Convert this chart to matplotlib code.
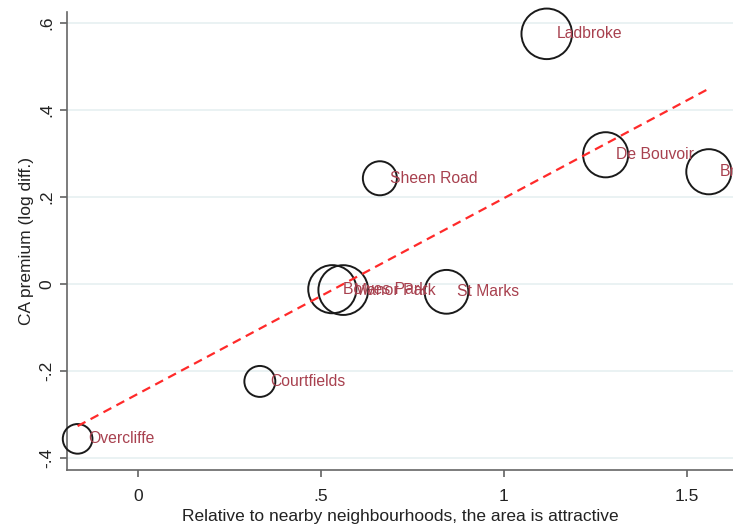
import numpy as np
import matplotlib.pyplot as plt

plt.rcParams['font.family'] = ['Liberation Sans', 'DejaVu Sans']

# conservation areas: attractiveness score vs. price premium
areas = ["Overcliffe", "Courtfields", "Bowes Park", "Manor Park", "Sheen Road",
         "St Marks", "Ladbroke", "De Bouvoir", "Brondesbury"]
attractive = [-0.165, 0.333, 0.531, 0.561, 0.661, 0.843, 1.117, 1.278, 1.560]
premium = [-0.356, -0.224, -0.012, -0.014, 0.243, -0.018, 0.575, 0.297, 0.258]
weight = [22, 24, 58, 62, 29, 48, 64, 51, 51]

yticks = [-0.4, -0.2, 0, 0.2, 0.4, 0.6]
ytick_labels = ["-.4", "-.2", "0", ".2", ".4", ".6"]
xticks = [0, 0.5, 1, 1.5]
xtick_labels = ["0", ".5", "1", "1.5"]

x = np.array(attractive)
y = np.array(premium)
w = np.array(weight)

fig = plt.figure(figsize=(7.33, 5.30), dpi=100)
ax = fig.add_axes([0.0914, 0.1132, 0.9086, 0.864])
ax.set_xlim(-0.194, 1.626)
ax.set_ylim(-0.4276, 0.625)

ax.set_yticks(yticks)
ax.set_yticklabels(ytick_labels, rotation=90, va='center')
ax.set_xticks(xticks)
ax.set_xticklabels(xtick_labels)
ax.grid(axis='y', color='#e6f0f1', linewidth=1.2)
ax.set_axisbelow(True)

for s in ['top', 'right']:
    ax.spines[s].set_visible(False)
for s in ['left', 'bottom']:
    ax.spines[s].set_color('#666666')
    ax.spines[s].set_linewidth(1.2)
ax.tick_params(colors='#555555', length=5, width=1.1, labelsize=12.5,
               labelcolor='#222222')
ax.tick_params(axis='x', pad=9)
ax.tick_params(axis='y', pad=4)

# hollow circles sized by weight
ax.scatter(x, y, s=w * 20.7, facecolors='none', edgecolors='#1a1a1a',
           linewidths=1.4, clip_on=False, zorder=3)

# linear fit
b, a = np.polyfit(x, y, 1)
xf = np.array([x.min(), x.max()])
ax.plot(xf, a + b * xf, color='#ff2a2a', linestyle=(0, (4, 2.6)),
        linewidth=1.6, zorder=4)

for name, xi, yi in zip(areas, x, y):
    ax.annotate(name, (xi, yi), xytext=(7.5, 0), textcoords='offset points',
                va='center', ha='left', fontsize=11.3, color='#a8414f',
                annotation_clip=False, zorder=5)

ax.set_xlabel("Relative to nearby neighbourhoods, the area is attractive",
              fontsize=12.5, color='#222222', labelpad=3)
ax.set_ylabel("CA premium (log diff.)", fontsize=12.5, color='#222222',
              labelpad=4)

fig.savefig("out.png", dpi=100)
